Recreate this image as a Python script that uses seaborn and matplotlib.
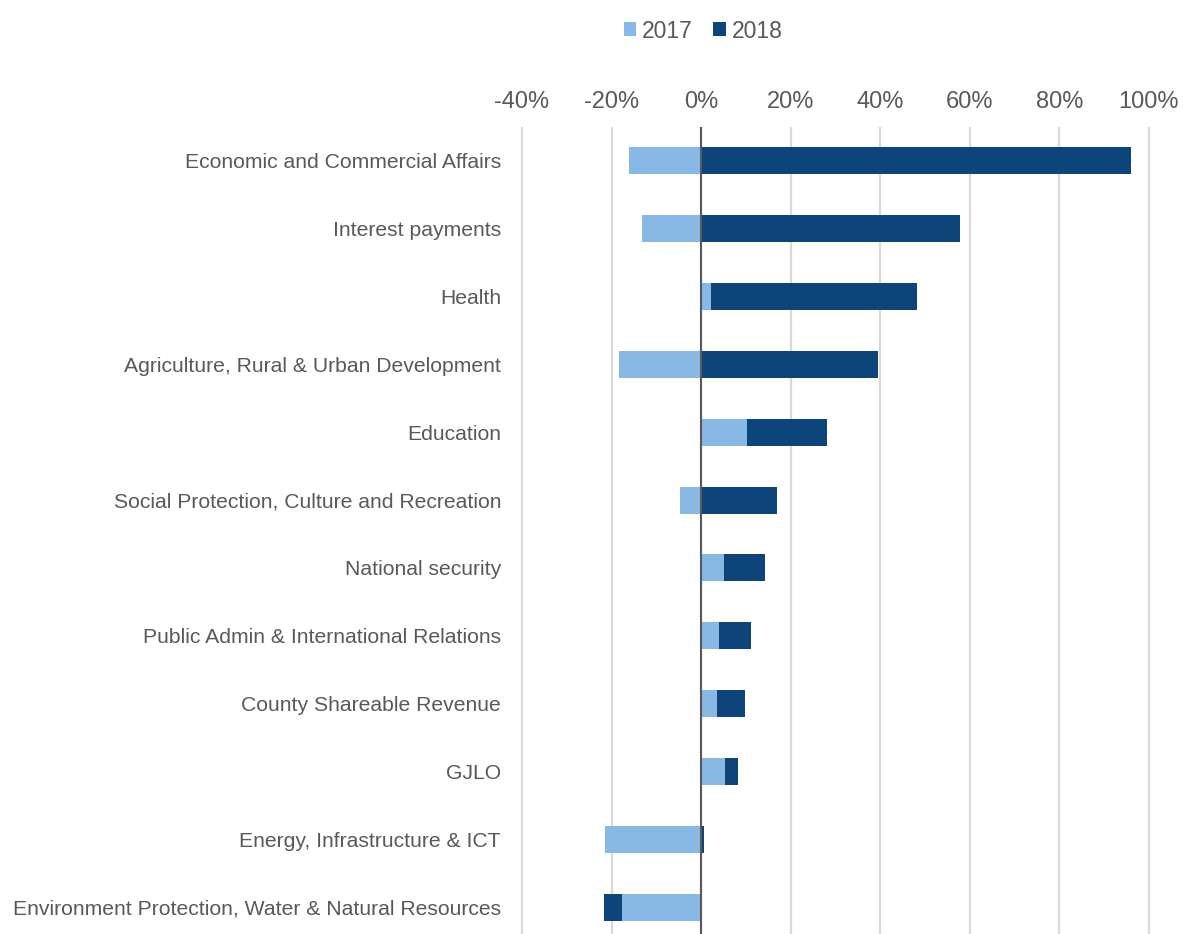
import matplotlib
matplotlib.use("Agg")
import matplotlib.pyplot as plt
import seaborn as sns
import numpy as np
import pandas as pd

categories = [
    "Economic and Commercial Affairs",
    "Interest payments",
    "Health",
    "Agriculture, Rural & Urban Development",
    "Education",
    "Social Protection, Culture and Recreation",
    "National security",
    "Public Admin & International Relations",
    "County Shareable Revenue",
    "GJLO",
    "Energy, Infrastructure & ICT",
    "Environment Protection, Water & Natural Resources",
]
y2017 = [-16.2, -13.1, 2.2, -18.4, 10.3, -4.7, 5.0, 4.0, 3.5, 5.4, -21.5, -17.6]
y2018 = [95.9, 57.8, 46.0, 39.4, 17.8, 17.0, 9.2, 7.2, 6.4, 2.8, 0.7, -4.2]

light = "#88B9E4"
dark = "#0D457A"
grey = "#595959"

sns.set_theme(style="white")
plt.rcParams["font.family"] = ["Liberation Sans", "DejaVu Sans"]

a17 = np.array(y2017)
a18 = np.array(y2018)
# Excel-style stacking: the 2018 segment sits on top of 2017 only when both share a sign
end18 = a18 + np.where(np.sign(a17) == np.sign(a18), a17, 0)

df = pd.DataFrame({"cat": categories, "y2017": a17, "end18": end18})

fig = plt.figure(figsize=(11.83, 9.34), dpi=100)
ax = fig.add_axes([519.8 / 1183, -7 / 934, (1151.2 - 519.8) / 1183, (934 + 7 - 127) / 934])

sns.barplot(data=df, y="cat", x="end18", color=dark, width=0.4, ax=ax,
            orient="h", saturation=1, label="2018", zorder=2, linewidth=0)
sns.barplot(data=df, y="cat", x="y2017", color=light, width=0.4, ax=ax,
            orient="h", saturation=1, label="2017", zorder=3, linewidth=0)

ax.set_xlim(-40.5, 100.5)
ax.set_xticks(np.arange(-40, 101, 20))
ax.set_xticklabels([f"{t}%" for t in range(-40, 101, 20)])
ax.xaxis.tick_top()
ax.tick_params(axis="x", length=0, pad=10, labelsize=17, labelcolor=grey)
ax.tick_params(axis="y", length=0, pad=13.5, labelsize=15.2, labelcolor=grey)
ax.set_xlabel("")
ax.set_ylabel("")
ax.grid(axis="x", color="#D9D9D9", linewidth=1.6, zorder=0)
ax.set_axisbelow(True)
ax.axvline(0, color="#595959", linewidth=1.5, zorder=4)
for s in ax.spines.values():
    s.set_visible(False)

handles, labels = ax.get_legend_handles_labels()
order = [labels.index("2017"), labels.index("2018")]
fig.legend([handles[i] for i in order], ["2017", "2018"], loc="center",
           bbox_to_anchor=(703 / 1183, 1 - 31 / 934), ncol=2, frameon=False,
           fontsize=16.5, labelcolor=grey, handlelength=0.55, handleheight=0.55,
           handletextpad=0.25, columnspacing=0.9)
if ax.get_legend():
    ax.get_legend().remove()

fig.savefig("out.png", dpi=100)
